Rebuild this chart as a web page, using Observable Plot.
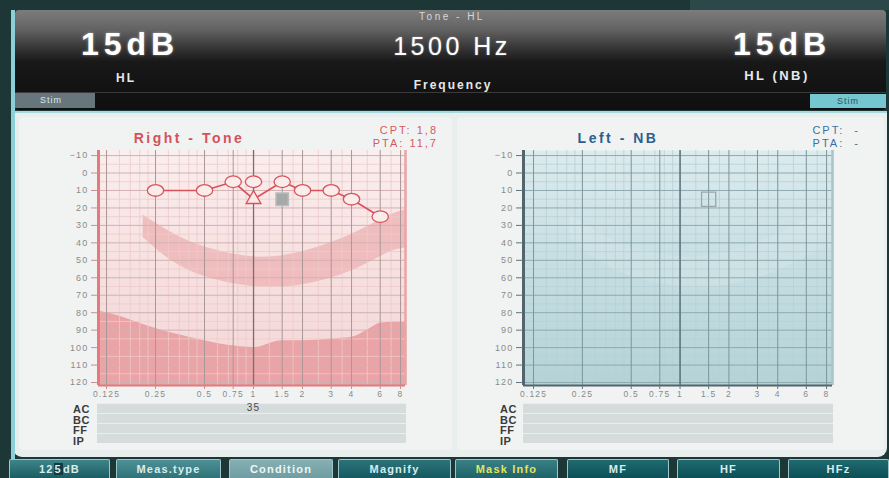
<!DOCTYPE html>
<html>
<head>
<meta charset="utf-8">
<script src="https://cdn.jsdelivr.net/npm/d3@7"></script>
<script src="https://cdn.jsdelivr.net/npm/@observablehq/plot@0.6"></script>
<style>
html,body{margin:0;padding:0}
body{width:889px;height:478px;position:relative;overflow:hidden;background:#1d3636;font-family:"Liberation Sans",Arial,sans-serif}
.a{position:absolute;white-space:nowrap;line-height:1}
.c{transform:translateX(-50%)}
#topglow{left:690px;top:0;width:199px;height:10px;background:#2d4848}
#header{left:15px;top:10px;width:871px;height:100px;border-radius:4px;background:linear-gradient(180deg,#7c7c7c 0%,#626262 20%,#3a3a3a 36%,#181818 52%,#0f0f0f 100%)}
#hline{left:15px;top:92px;width:871px;height:1px;background:#3a3a3a}
#leftstripe{left:11px;top:10px;width:4px;height:468px;background:#8ccfd6}
#panel{left:13px;top:111px;width:874px;height:344px;background:#e8eded;border-radius:0 0 9px 9px;border-top:2px solid #a6d9de}
.card{top:117px;height:333px;background:#f1f3f3;border-radius:4px}
.big{color:#fff;font-weight:bold;font-size:32px;letter-spacing:5px;text-shadow:0 0 3px rgba(255,255,255,.45)}
.lab{color:#e8e8e8;font-weight:bold}
.stim{font-size:9px;letter-spacing:1px;box-sizing:border-box;padding-top:3px}
.ttl{font-weight:bold;font-size:14px;letter-spacing:2.5px}
.cp{font-size:11px;letter-spacing:2px;text-align:right;line-height:13px}
.rowlab{font-size:11px;font-weight:bold;color:#3a3a3a;letter-spacing:.5px;line-height:10.7px}
.bar{height:9px;background:#d6dbdb;border-top:1px solid #e9eded}
.btn{top:459px;height:19px;box-sizing:border-box;border:1px solid #9cc6ca;border-bottom:none;border-radius:2px 2px 0 0;font-size:11px;font-weight:bold;letter-spacing:1.2px;text-align:center;padding-top:4px;color:#d8eced;background:linear-gradient(180deg,#3f8489,#1a5e64)}
svg{overflow:visible}
</style>
</head>
<body>
<div class="a" id="topglow"></div>
<div class="a" id="header"></div>
<div class="a" id="hline"></div>
<div class="a" id="panel"></div>
<div class="a" id="leftstripe"></div>
<div class="a card" style="left:19px;width:433px"></div>
<div class="a card" style="left:457px;width:427px"></div>

<div class="a c lab" style="left:452px;top:12px;font-size:10px;font-weight:normal;letter-spacing:2.5px;color:#d8d8d8">Tone - HL</div>
<div class="a c big" style="left:130px;top:28px">15dB</div>
<div class="a c lab" style="left:126px;top:72px;font-size:12px;letter-spacing:2px">HL</div>
<div class="a c" style="left:452px;top:34px;font-size:25px;letter-spacing:3.5px;color:#fff;text-shadow:0 0 2px rgba(255,255,255,.4)">1500 Hz</div>
<div class="a c lab" style="left:453px;top:79px;font-size:12px;letter-spacing:2px">Frequency</div>
<div class="a c big" style="left:782px;top:28px">15dB</div>
<div class="a c lab" style="left:777px;top:69px;font-size:13px;letter-spacing:2.5px">HL (NB)</div>
<div class="a stim" style="left:15px;top:93px;width:80px;height:15px;background:#66767b;color:#dfe6e8;padding-left:25px">Stim</div>
<div class="a stim" style="left:810px;top:94px;width:76px;height:14px;background:#74c6d1;color:#2e5257;text-align:center">Stim</div>

<div class="a c ttl" style="left:189px;top:131px;color:#d4535b">Right - Tone</div>
<div class="a cp" style="right:451px;top:124px;color:#d65a62">CPT: 1,8<br>PTA: 11,7</div>
<div class="a c ttl" style="left:618px;top:131px;color:#2d5e8e">Left - NB</div>
<div class="a cp" style="right:29px;top:124px;color:#3b6fa0">CPT:&nbsp;&nbsp;-<br>PTA:&nbsp;&nbsp;-</div>

<div class="a rowlab" style="left:73px;top:404px">AC<br>BC<br>FF<br>IP</div>
<div class="a" style="left:97px;top:403px;width:309px"><div class="bar"></div><div class="bar"></div><div class="bar"></div><div class="bar"></div></div>
<div class="a rowlab" style="left:500px;top:404px">AC<br>BC<br>FF<br>IP</div>
<div class="a" style="left:523px;top:403px;width:310px"><div class="bar"></div><div class="bar"></div><div class="bar"></div><div class="bar"></div></div>

<div id="leftChart" class="a" style="left:20px;top:120px"></div>
<div id="rightChart" class="a" style="left:460px;top:120px"></div>

<div class="a btn" style="left:9px;width:101px">12<span style="background:#0d3d42;padding:0 1px">5</span>dB</div>
<div class="a btn" style="left:116px;width:105px;background:linear-gradient(180deg,#4e9096,#2f7379)">Meas.type</div>
<div class="a btn" style="left:229px;width:104px;background:linear-gradient(180deg,#86afb3,#6e9da1);color:#eef6f6">Condition</div>
<div class="a btn" style="left:338px;width:113px;background:linear-gradient(180deg,#2c7379,#145a60)">Magnify</div>
<div class="a btn" style="left:455px;width:103px;color:#e6e35c;background:linear-gradient(180deg,#3a7f84,#1d6369)">Mask Info</div>
<div class="a btn" style="left:567px;width:102px;background:linear-gradient(180deg,#1f6a70,#0c5056)">MF</div>
<div class="a btn" style="left:677px;width:103px;background:linear-gradient(180deg,#1f6a70,#0c5056)">HF</div>
<div class="a btn" style="left:788px;width:101px;background:linear-gradient(180deg,#1f6a70,#0c5056)">HFz</div>

<script>
// ---------- data ----------
const freqTicks = [0.125, 0.25, 0.5, 0.75, 1, 1.5, 2, 3, 4, 6, 8];
const freqLabels = ["0.125", "0.25", "0.5", "0.75", "1", "1.5", "2", "3", "4", "6", "8"];
const freqMinor = [0.15, 0.175, 0.2, 0.225, 0.3, 0.35, 0.4, 0.45, 0.6, 0.7, 0.8, 0.9, 1.25, 1.75, 2.5, 3.5, 5, 7];
const levelTicks = [-10, 0, 10, 20, 30, 40, 50, 60, 70, 80, 90, 100, 110, 120];
const levelMinor = [-5, 5, 15, 25, 35, 45, 55, 65, 75, 85, 95, 105, 115];

// Right ear – Tone
const rightFreqs = [0.25, 0.5, 0.75, 1, 1.5, 2, 3, 4, 6];
const rightTraceLevels = [10, 10, 5, 15, 5, 10, 10, 15, 25];
const rightCircleLevels = [10, 10, 5, 5, 5, 10, 10, 15, 25];
const rightMaskedFreqs = [1];
const rightMaskedLevels = [15];
const stimFreqs = [1.5];
const stimLevels = [15];
const acFreqs = [1];
const acValues = ["35"];

// Left ear – NB
const leftNBFreqs = [1.5];
const leftNBLevels = [15];

// Speech banana and output-limit region
const bananaFreqs = [0.21, 0.3, 0.49, 1, 2, 4, 6.6, 8.6];
const bananaTop = [24, 33, 42, 48, 45, 35, 25, 21];
const bananaBottom = [37, 49, 59, 65, 64, 56, 46, 43];
const limitFreqs = [0.11, 0.125, 0.25, 0.5, 0.75, 1, 1.5, 2, 3, 4, 5, 6, 8.6];
const limitLevels = [79, 80, 89, 96, 99, 100, 96, 96, 95, 94, 90, 86, 85];

const yDomain = [-12.9, 121.7];
const tickTable = freqTicks.map((x, i) => ({x, label: freqLabels[i]}));

// ---------- helpers ----------
const ellipse = {
  draw(ctx, size) {
    const r = Math.sqrt(size / Math.PI), rx = r * 1.2, ry = r * 0.85, k = 0.5523;
    ctx.moveTo(rx, 0);
    ctx.bezierCurveTo(rx, ry * k, rx * k, ry, 0, ry);
    ctx.bezierCurveTo(-rx * k, ry, -rx, ry * k, -rx, 0);
    ctx.bezierCurveTo(-rx, -ry * k, -rx * k, -ry, 0, -ry);
    ctx.bezierCurveTo(rx * k, -ry, rx, -ry * k, rx, 0);
    ctx.closePath();
  }
};
const rows = (xs, ys) => xs.map((x, i) => ({x, y: ys[i]}));
const banana = bananaFreqs.map((x, i) => ({x, y1: bananaTop[i], y2: bananaBottom[i]}));
const limit = limitFreqs.map((x, i) => ({x, y1: limitLevels[i], y2: yDomain[1]}));

function addGradient(svg, id, stops) {
  const g = d3.select(svg).insert("defs", ":first-child").append("linearGradient")
    .attr("id", id).attr("x1", 0).attr("y1", 0).attr("x2", 0).attr("y2", 1);
  stops.forEach(([o, c]) => g.append("stop").attr("offset", o).attr("stop-color", c));
}

function audiogram(c) {
  return Plot.plot({
    width: c.width, height: 300,
    marginLeft: c.ml, marginRight: c.mr, marginTop: 30, marginBottom: 35,
    x: {type: "log", domain: c.xDomain},
    y: {domain: yDomain, reverse: true},
    style: {background: "transparent", fontFamily: "Liberation Sans, Arial, sans-serif", letterSpacing: "1.2px", overflow: "visible"},
    marks: [
      Plot.frame({fill: c.bg, stroke: "none"}),
      ...c.under,
      Plot.gridX({ticks: freqMinor, stroke: c.minor, strokeOpacity: 1, strokeWidth: 0.8}),
      Plot.gridY({ticks: levelMinor, stroke: c.minor, strokeOpacity: 1, strokeWidth: 0.8}),
      Plot.gridY({ticks: levelTicks, stroke: c.hgrid, strokeOpacity: 1, strokeWidth: 1}),
      Plot.gridX({ticks: freqTicks, stroke: c.major, strokeOpacity: 1, strokeWidth: 1}),
      Plot.gridX({ticks: [1], stroke: c.oneK, strokeOpacity: 1, strokeWidth: 1.3}),
      Plot.ruleX([c.xDomain[0]], {stroke: c.edge, strokeWidth: 3}),
      Plot.ruleX([c.xDomain[1]], {stroke: c.edge2, strokeWidth: 2.5}),
      Plot.ruleY([yDomain[1]], {stroke: c.edge, strokeWidth: 2}),
      Plot.axisY({ticks: levelTicks, tickSize: 7, tickPadding: 3, fontSize: 9, stroke: c.tick, fill: "#8a8a8a", label: null}),
      Plot.axisX({ticks: freqTicks, tickFormat: () => "", tickSize: 4, tickPadding: 3, stroke: c.tick, label: null}),
      Plot.text(tickTable, {x: "x", text: "label", frameAnchor: "bottom", dy: 11, fontSize: 8.5, fill: "#8a8a8a"}),
      ...c.over
    ]
  });
}

// ---------- right ear (left panel) ----------
const leftSvg = audiogram({
  width: 430, ml: 78, mr: 45, xDomain: [0.1116, 8.58],
  bg: "url(#gradRight)", minor: "#eccaca", hgrid: "#d2b1b2", major: "#ab9797", oneK: "#7e6b6b",
  edge: "#e27a7e", edge2: "#eba3a5", tick: "#c98f91",
  under: [
    Plot.areaY(banana, {x: "x", y1: "y1", y2: "y2", fill: "#efb6b8", fillOpacity: 0.85, curve: "natural"}),
    Plot.areaY(limit, {x: "x", y1: "y1", y2: "y2", fill: "#eaa4a7", curve: "monotone-x"})
  ],
  over: [
    Plot.dot(rows(stimFreqs, stimLevels), {x: "x", y: "y", symbol: "square", r: 7, fill: "#a7a9a9", stroke: "#b9bcbc"}),
    Plot.line(rows(rightFreqs, rightTraceLevels), {x: "x", y: "y", stroke: "#d9525b", strokeWidth: 1.7}),
    Plot.dot(rows(rightMaskedFreqs, rightMaskedLevels), {x: "x", y: "y", symbol: "triangle", r: 5.5, fill: "#fbe9ea", stroke: "#d9525b", strokeWidth: 1.3}),
    Plot.dot(rows(rightFreqs, rightCircleLevels), {x: "x", y: "y", symbol: ellipse, r: 6.8, fill: "#fbecec", stroke: "#d9525b", strokeWidth: 1.3}),
    Plot.text(rows(acFreqs, acValues), {x: "x", text: "y", frameAnchor: "bottom", dy: 25, fontSize: 10, fill: "#4a4a4a"})
  ]
});
addGradient(leftSvg, "gradRight", [[0, "#fbeeee"], [0.5, "#f7e0e0"], [1, "#f4d7d7"]]);
document.getElementById("leftChart").appendChild(leftSvg);

// ---------- left ear (right panel) ----------
const rightSvg = audiogram({
  width: 429, ml: 63, mr: 57, xDomain: [0.1084, 8.7],
  bg: "url(#gradLeft)", minor: "#b7d0d5", hgrid: "#8fa9b0", major: "#7d959c", oneK: "#56707a",
  edge: "#52656d", edge2: "#a9c3c8", tick: "#5f737a",
  under: [
    Plot.areaY(banana, {x: "x", y1: "y1", y2: "y2", fill: "#ffffff", fillOpacity: 0.12, curve: "natural"})
  ],
  over: [
    Plot.dot(rows(leftNBFreqs, leftNBLevels), {x: "x", y: "y", symbol: "square", r: 8, fill: "none", stroke: "#9aa6a9", strokeWidth: 1.3})
  ]
});
addGradient(rightSvg, "gradLeft", [[0, "#dcebee"], [0.45, "#c7dfe3"], [1, "#b5d3d7"]]);
document.getElementById("rightChart").appendChild(rightSvg);
</script>
</body>
</html>
